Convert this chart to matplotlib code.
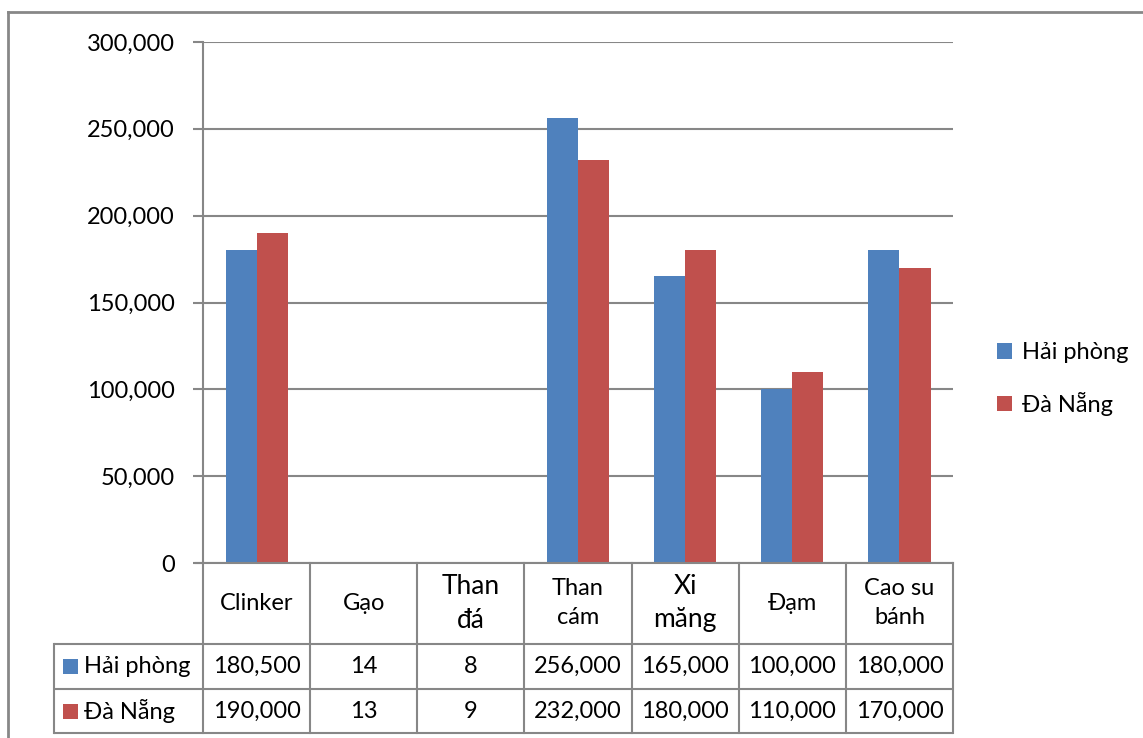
import matplotlib
matplotlib.use("Agg")
import matplotlib.pyplot as plt
from matplotlib.patches import Rectangle
from matplotlib.transforms import blended_transform_factory
from matplotlib.ticker import FuncFormatter, MultipleLocator

plt.rcParams['font.family'] = ['Lato', 'DejaVu Sans']

# Data
categories = ["Clinker", "Gạo", "Than\nđá", "Than\ncám", "Xi\nmăng", "Đạm", "Cao su\nbánh"]
series_names = ["Hải phòng", "Đà Nẵng"]
hai_phong = [180500, 14, 8, 256000, 165000, 100000, 180000]
da_nang = [190000, 13, 9, 232000, 180000, 110000, 170000]
colors = ["#4F81BD", "#C0504D"]

W, H = 1143, 738
GRAY = "#878787"
FS = 17

fig = plt.figure(figsize=(W / 100, H / 100), dpi=100)

# Main chart area
x0, x1, y_top, y_zero = 203, 953, 42, 563
ax = fig.add_axes([x0 / W, (H - y_zero) / H, (x1 - x0) / W, (y_zero - y_top) / H])

n = len(categories)
bw = 0.29
xs = list(range(n))
series = [hai_phong, da_nang]
bars = []
for k, (vals, c) in enumerate(zip(series, colors)):
    b = ax.bar([x + (k - 0.5) * bw for x in xs], vals, width=bw, color=c,
               linewidth=0, zorder=3, label=series_names[k])
    bars.append(b)

ax.set_xlim(-0.5, n - 0.5)
ax.set_ylim(0, 300000)
ax.yaxis.set_major_locator(MultipleLocator(50000))
ax.yaxis.set_major_formatter(FuncFormatter(lambda v, p: f"{int(v):,}"))
ax.grid(axis="y", color=GRAY, linewidth=1.5, zorder=0)
ax.set_xticks([])
for s in ["top", "right", "bottom"]:
    ax.spines[s].set_visible(False)
ax.spines["left"].set_color(GRAY)
ax.spines["left"].set_linewidth(1.5)
ax.tick_params(axis="y", length=7, width=1.5, color=GRAY, pad=13.5,
               labelsize=FS, labelcolor="black")

# Legend
leg = fig.legend(handles=[b[0] for b in bars], labels=series_names,
                 loc="center left", bbox_to_anchor=(988 / W, (H - 379) / H),
                 frameon=False, fontsize=FS, handlelength=0.62, handleheight=0.62,
                 handletextpad=0.4, labelspacing=1.2, borderaxespad=0)

# Overlay in pixel coordinates for the data table and outer frame
ov = fig.add_axes([0, 0, 1, 1], zorder=5)
ov.set_xlim(0, W)
ov.set_ylim(H, 0)
ov.axis("off")
ov.patch.set_alpha(0)

tr = blended_transform_factory(ax.transData, ov.transData)

row_top, row_mid, row_bot = 644, 689, 733
left_col = 54
lw = 1.5

# table borders
for y in [row_top, row_mid, row_bot]:
    ov.plot([left_col, x1], [y, y], color=GRAY, lw=lw, solid_capstyle="butt")
ov.plot([x0 - 7, x1], [y_zero, y_zero], color=GRAY, lw=lw)
ov.plot([left_col, left_col], [row_top, row_bot], color=GRAY, lw=lw)
for i in range(n + 1):
    ov.plot([i - 0.5, i - 0.5], [y_zero, row_bot], color=GRAY, lw=lw, transform=tr)

# category header texts
big = {"Than\nđá", "Xi\nmăng"}
for i, cat in enumerate(categories):
    fs = FS * 1.12 if cat in big else FS
    ov.text(i, 603, cat, transform=tr, ha="center", va="center", fontsize=fs,
            linespacing=1.45)

# value rows
row_centers = [666.5, 711]
for vals, name, c, yc in zip(series, series_names, colors, row_centers):
    ov.add_patch(Rectangle((63, yc - 7.5), 15, 15, color=c, lw=0))
    ov.text(84, yc, name, ha="left", va="center", fontsize=FS)
    for i, v in enumerate(vals):
        ov.text(i, yc, f"{v:,}", transform=tr, ha="center", va="center", fontsize=FS)

# outer chart frame
ov.plot([8, 8], [12, H + 5], color=GRAY, lw=2)
ov.plot([8, W + 5], [12, 12], color=GRAY, lw=2)

fig.savefig("out.png", dpi=100)
